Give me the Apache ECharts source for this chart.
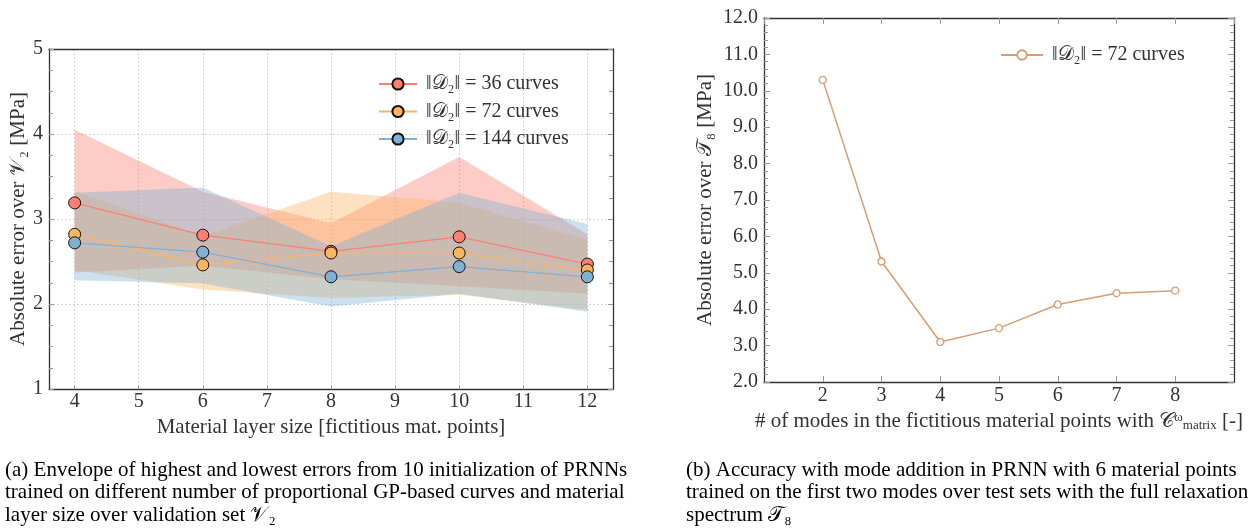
<!DOCTYPE html>
<html>
<head>
<meta charset="utf-8">
<script src="https://cdn.jsdelivr.net/npm/echarts@6/dist/echarts.min.js"></script>
<style>
  html, body { margin: 0; padding: 0; background: #fff; }
  #main { width: 1252px; height: 532px; }
</style>
</head>
<body>
<div id="main"></div>
<script>
// (a) envelopes over material layer size
const layerSizes = [4, 6, 8, 10, 12];
const mean36 = [3.19, 2.81, 2.62, 2.79, 2.47];
const mean72 = [2.82, 2.46, 2.60, 2.60, 2.40];
const mean144 = [2.72, 2.61, 2.32, 2.44, 2.32];
const low36 = [2.37, 2.45, 2.29, 2.21, 2.12];
const high36 = [4.05, 3.32, 2.95, 3.73, 2.82];
const low72 = [2.40, 2.17, 2.07, 2.11, 1.93];
const high72 = [3.33, 2.80, 3.32, 3.19, 2.76];
const low144 = [2.28, 2.24, 1.97, 2.12, 1.91];
const high144 = [3.31, 3.37, 2.68, 3.31, 2.94];
const layerTicks = [4, 5, 6, 7, 8, 9, 10, 11, 12];

// (b) mode addition
const modes = [2, 3, 4, 5, 6, 7, 8];
const modeError = [10.30, 5.31, 3.10, 3.48, 4.13, 4.44, 4.51];

const names = ['‖𝒟₂‖ = 36 curves', '‖𝒟₂‖ = 72 curves', '‖𝒟₂‖ = 144 curves'];
const colors = ['#fb8072', '#fdb462', '#80b1d3'];
const tan = '#d89c74';
const serif = '"Liberation Serif", "DejaVu Serif", serif';

const pairs = arr => layerSizes.map((x, i) => [x, arr[i]]);

// envelope between lowest and highest error, drawn as one polygon
function band(lo, hi, color) {
  return {
    type: 'custom', silent: true, z: 1,
    data: layerSizes.map((x, i) => [x, lo[i], hi[i]]),
    encode: { x: 0, y: [1, 2] },
    renderItem(params, api) {
      if (params.dataIndex !== 0) return;
      const top = layerSizes.map((x, i) => api.coord([x, hi[i]]));
      const bottom = layerSizes.map((x, i) => api.coord([x, lo[i]])).reverse();
      return { type: 'polygon', shape: { points: top.concat(bottom) },
               style: { fill: color, opacity: 0.4 } };
    }
  };
}

function meanLine(name, arr, color) {
  return {
    type: 'line', name: name, data: pairs(arr), symbol: 'circle', symbolSize: 12,
    itemStyle: { color: color, borderColor: '#111', borderWidth: 1 },
    lineStyle: { color: color, width: 1.2 }, z: 5
  };
}

const tickLabel = { fontFamily: serif, fontSize: 20, color: '#333' };
const nameStyle = { fontFamily: serif, fontSize: 21, color: '#333' };
const spine = { show: true, onZero: false, lineStyle: { color: '#333', width: 1.3 } };
const grey = { color: '#999', width: 1 };
const dashed = { show: true, lineStyle: { color: '#cfcfcf', type: [2, 2], width: 0.9 } };

const chart = echarts.init(document.getElementById('main'));
chart.setOption({
  animation: false,
  grid: [
    { left: 49, top: 49, width: 564, height: 340 },
    { left: 764, top: 18, width: 470, height: 364 }
  ],
  xAxis: [
    { gridIndex: 0, type: 'value', min: 3.6, max: 12.4, position: 'bottom',
      axisLine: spine,
      axisTick: { inside: true, length: 4, lineStyle: grey, customValues: layerTicks },
      axisLabel: Object.assign({ margin: 3, customValues: layerTicks }, tickLabel),
      splitLine: dashed,
      name: 'Material layer size [fictitious mat. points]', nameLocation: 'middle', nameGap: 25,
      nameTextStyle: nameStyle },
    { gridIndex: 0, type: 'value', min: 3.6, max: 12.4, position: 'top',
      axisLine: spine, axisTick: { show: false }, axisLabel: { show: false }, splitLine: { show: false } },
    { gridIndex: 1, type: 'value', min: 1, max: 9, interval: 1, position: 'bottom',
      axisLine: spine,
      axisTick: { inside: true, length: 6, lineStyle: grey },
      axisLabel: Object.assign({ margin: 4, showMinLabel: false, showMaxLabel: false }, tickLabel),
      splitLine: { show: false },
      name: '# of modes in the fictitious material points with 𝒞{sup|ω}{sub|matrix} [-]',
      nameLocation: 'middle', nameGap: 27,
      nameTextStyle: Object.assign({
        rich: { sup: { fontFamily: serif, fontSize: 13, color: '#333', verticalAlign: 'top' },
                sub: { fontFamily: serif, fontSize: 13, color: '#333', verticalAlign: 'bottom' } } }, nameStyle) },
    { gridIndex: 1, type: 'value', min: 1, max: 9, interval: 1, position: 'top',
      axisLine: spine, axisTick: { inside: true, length: 6, lineStyle: grey },
      axisLabel: { show: false }, splitLine: { show: false } }
  ],
  yAxis: [
    { gridIndex: 0, type: 'value', min: 1, max: 5, interval: 1, position: 'left',
      axisLine: spine,
      axisTick: { show: true, inside: true, length: 5, lineStyle: grey },
      minorTick: { show: true, splitNumber: 4, length: 4, lineStyle: grey },
      axisLabel: Object.assign({ margin: 6 }, tickLabel),
      splitLine: dashed,
      name: 'Absolute error over 𝒱₂ [MPa]', nameLocation: 'middle', nameGap: 20,
      nameTextStyle: nameStyle },
    { gridIndex: 0, type: 'value', min: 1, max: 5, interval: 1, position: 'right',
      axisLine: spine,
      axisTick: { show: true, inside: true, length: 5, lineStyle: grey },
      minorTick: { show: true, splitNumber: 4, length: 4, lineStyle: grey },
      axisLabel: { show: false }, splitLine: { show: false } },
    { gridIndex: 1, type: 'value', min: 2, max: 12, interval: 1, position: 'left',
      axisLine: spine,
      axisTick: { show: true, inside: true, length: 6, lineStyle: grey },
      minorTick: { show: true, splitNumber: 5, length: 4, lineStyle: grey },
      axisLabel: Object.assign({ margin: 6, formatter: v => v.toFixed(1) }, tickLabel),
      splitLine: { show: false },
      name: 'Absolute error over 𝒯₈ [MPa]', nameLocation: 'middle', nameGap: 48,
      nameTextStyle: nameStyle },
    { gridIndex: 1, type: 'value', min: 2, max: 12, interval: 1, position: 'right',
      axisLine: spine,
      axisTick: { show: true, inside: true, length: 6, lineStyle: grey },
      minorTick: { show: true, splitNumber: 5, length: 4, lineStyle: grey },
      axisLabel: { show: false }, splitLine: { show: false } }
  ],
  legend: [
    { data: names, orient: 'vertical', left: 373, top: 69, itemWidth: 38, itemHeight: 14,
      itemGap: 7.5, textStyle: { fontFamily: serif, fontSize: 20, color: '#333', padding: [0, 0, 0, 4] } },
    { data: ['‖𝒟₂‖ = 72 curves '], left: 995, top: 40, itemWidth: 42, itemHeight: 12,
      textStyle: { fontFamily: serif, fontSize: 20, color: '#333', padding: [0, 0, 0, 4] } }
  ],
  series: [
    band(low36, high36, colors[0]),
    band(low72, high72, colors[1]),
    band(low144, high144, colors[2]),
    meanLine(names[0], mean36, colors[0]),
    meanLine(names[1], mean72, colors[1]),
    meanLine(names[2], mean144, colors[2]),
    { type: 'line', name: '‖𝒟₂‖ = 72 curves ', xAxisIndex: 2, yAxisIndex: 2,
      data: modes.map((m, i) => [m, modeError[i]]),
      symbol: 'circle', symbolSize: 7,
      itemStyle: { color: '#fff', borderColor: tan, borderWidth: 1.3 },
      lineStyle: { color: tan, width: 1.5 }, z: 5 }
  ],
  graphic: [
    { type: 'text', left: 5, top: 459, style: {
        text: '(a) Envelope of highest and lowest errors from 10 initialization of PRNNs\ntrained on different number of proportional GP-based curves and material\nlayer size over validation set 𝒱₂',
        font: '21px ' + serif, lineHeight: 22.5, fill: '#000' } },
    { type: 'text', left: 686, top: 459, style: {
        text: '(b) Accuracy with mode addition in PRNN with 6 material points\ntrained on the first two modes over test sets with the full relaxation\nspectrum 𝒯₈',
        font: '21px ' + serif, lineHeight: 22.5, fill: '#000' } }
  ]
});
</script>
</body>
</html>
